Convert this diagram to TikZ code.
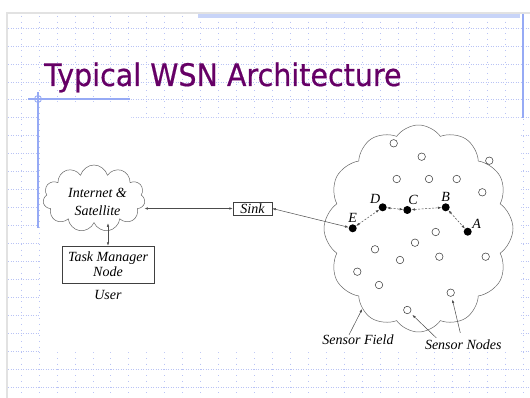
\documentclass[tikz,border=0pt]{standalone}
\usepackage{fontspec}
\setmainfont{Liberation Serif}
\newfontfamily\titlefont[FakeBold=0.6]{DejaVu Sans}
\usetikzlibrary{shapes.symbols,arrows.meta}
\definecolor{gridblue}{RGB}{185,195,245}
\definecolor{markblue}{RGB}{150,170,245}
\definecolor{bandblue}{RGB}{200,212,248}
\definecolor{titlepurple}{RGB}{102,0,102}
\definecolor{framegray}{RGB}{226,226,226}

\begin{document}
\begin{tikzpicture}[x=1pt,y=-1pt,
    txt/.style={font=\fontsize{14}{15}\selectfont\itshape, inner sep=0pt},
    box/.style={draw=black!75, line width=0.5pt, txt, inner sep=1pt},
    puff/.style={cloud, cloud ignores aspect, draw=black!60, line width=0.5pt, inner sep=0pt},
    sensor/.style={circle, draw=black!80, line width=0.5pt, minimum size=7.5pt, inner sep=0pt},
    active/.style={circle, fill=black, minimum size=8pt, inner sep=0pt},
    link/.style={draw=black!70, line width=0.5pt, {Latex[length=3.5pt,width=2.5pt]}-{Latex[length=3.5pt,width=2.5pt]}},
    hop/.style={link, dash pattern=on 2pt off 1.5pt},
    pointer/.style={draw=black!70, line width=0.5pt, -{Latex[length=3.5pt,width=2.5pt]}}]
\useasboundingbox (0,0) rectangle (530,398);
% slide with its grid
\fill[white] (0,0) rectangle (530,398);
\fill[framegray] (6,12) rectangle (530,14);
\fill[framegray] (6,12) rectangle (8,398);
\foreach \k in {0,...,20}
  \draw[gridblue, line width=0.6pt, dash pattern=on 0.7pt off 1.8pt] (8,28+17.95*\k) -- (530,28+17.95*\k);
\foreach \k in {0,...,28}
  \draw[gridblue, line width=0.6pt, dash pattern=on 0.7pt off 5pt] (21+17.95*\k,16) -- (21+17.95*\k,398);
\fill[bandblue] (198,14) rectangle (520,18);
% pasted figure
\fill[white] (40,102) -- (131,102) -- (131,118) -- (521,118) -- (521,352) -- (40,352) -- cycle;
\draw[markblue, line width=1.5pt] (523,14) -- (523,118);
\draw[markblue, line width=1.2pt] (28,99) -- (130,99);
\draw[markblue, line width=1.5pt] (38,92) -- (38,228);
\draw[markblue, line width=0.8pt] (38,99) circle (3.5);
\node[anchor=base west, inner sep=0pt, text=titlepurple, font=\titlefont\fontsize{31}{36}\selectfont] (title) at (44,86) {\scalebox{0.92}[1]{Typical WSN Architecture}};

% user side
\node[puff, cloud puffs=11, minimum width=102pt, minimum height=67pt] (inet) at (94,198.5) {};
\node[txt, align=center, font=\fontsize{14}{18}\selectfont\itshape] (inettext) at (97.5,201.5) {Internet \&\\Satellite};
\node[box, minimum width=39pt, minimum height=13pt] (sink) at (252.5,208.5) {Sink};
\node[box, align=center, minimum width=92pt, minimum height=37pt] (task) at (108,264.5) {Task Manager\\Node};
\node[txt] (user) at (108,295) {User};

% sensor field
\node[puff, cloud puffs=12, cloud puff arc=110, minimum width=189pt, minimum height=207pt] (sfield) at (418.5,228.5) {};
\foreach \p [count=\i] in {(393.7,143.3),(421.7,156.7),(489.3,160.7),(396.7,179),(429,179),(456.7,179),
    (482.3,192.3),(435.7,232),(415,242.7),(375,249.3),(400,260),(439.3,256.7),(485.7,256.7),
    (357.3,271.7),(379,285),(450.7,292.7),(407.3,310)}
  \node[sensor] (s\i) at \p {};
\node[active, label={[txt, label distance=1.5pt]above:E}] (E) at (352.7,228.3) {};
\node[active, label={[txt, label distance=0.5pt]120:D}] (D) at (382.7,207.3) {};
\node[active, label={[txt, label distance=1.5pt]80:C}] (C) at (407.3,210) {};
\node[active, label={[txt, label distance=1.5pt]above:B}] (B) at (445.7,207.3) {};
\node[active, label={[txt, label distance=1pt]30:A}] (A) at (467.7,231.7) {};
\node[txt] (fieldlbl) at (358,340) {Sensor Field};
\node[txt] (nodeslbl) at (463.3,345) {Sensor Nodes};

% links
\draw[link] (sink.west -| inet.east) -- (sink.west);
\draw[link] (task.north) -- (task.north |- inet.south);
\draw[link] (sink.east) -- (E);
\draw[hop] (E) -- (D);
\draw[hop] (D) -- (C);
\draw[hop] (C) -- (B);
\draw[hop] (B) -- (A);
\draw[pointer] ([xshift=-9pt]fieldlbl.north) -- (sfield.235);
\draw[pointer, shorten >=3pt] ([xshift=-27pt,yshift=2pt]nodeslbl.north) -- (s17);
\draw[pointer, shorten >=3pt] ([xshift=-3pt,yshift=7pt]nodeslbl.north) -- (s16);
\end{tikzpicture}
\end{document}
